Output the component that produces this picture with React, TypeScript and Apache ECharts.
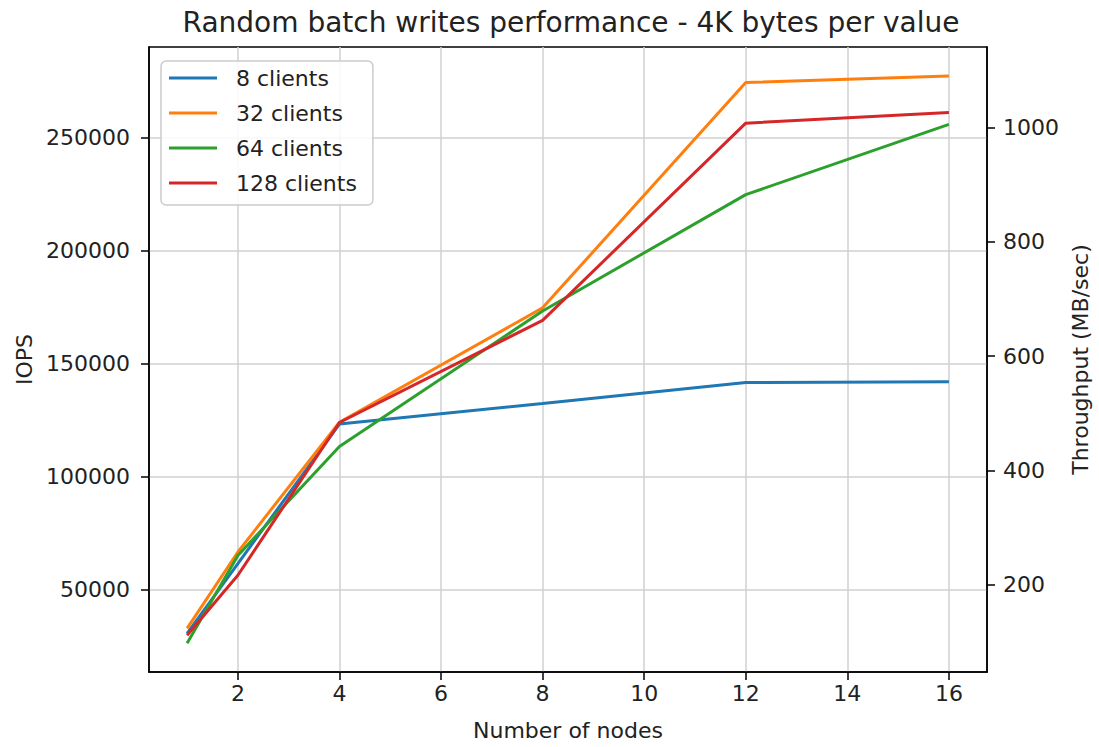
import React, { useEffect, useRef } from "react";
import * as echarts from "echarts";

const nodes = [1, 2, 4, 8, 12, 16];
const seriesNames = ["8 clients", "32 clients", "64 clients", "128 clients"];
const clients8 = [30600, 61500, 123200, 132300, 141600, 141900];
const clients32 = [32800, 66600, 124000, 174600, 274300, 277200];
const clients64 = [26200, 65100, 113300, 173200, 224700, 255800];
const clients128 = [29800, 56300, 123900, 169100, 256300, 261000];
const xTicks = [2, 4, 6, 8, 10, 12, 14, 16];
const iopsTicks = [50000, 100000, 150000, 200000, 250000];
const throughputTicks = [200, 400, 600, 800, 1000];
const colors = ["#1f77b4", "#ff7f0e", "#2ca02c", "#d62728"];

const FONT = "DejaVu Sans";

export default function App() {
  const ref = useRef<HTMLDivElement>(null);
  useEffect(() => {
    if (!ref.current) return;
    const chart = echarts.init(ref.current, null, { renderer: "svg" });
    const allData = [clients8, clients32, clients64, clients128];
    const axisText = { color: "#222", fontFamily: FONT, fontSize: 22 };
    const plain = (v: number) => String(v);
    chart.setOption({
      animation: false,
      backgroundColor: "#fff",
      title: {
        text: "Random batch writes performance - 4K bytes per value",
        left: 566,
        textAlign: "center",
        top: 3,
        textStyle: { color: "#222", fontFamily: FONT, fontSize: 28, fontWeight: "normal" },
      },
      legend: {
        orient: "vertical",
        left: 161,
        top: 61,
        padding: [6, 16, 11, 8],
        icon: "rect",
        itemWidth: 48,
        itemHeight: 3,
        itemGap: 13,
        itemStyle: { borderWidth: 0 },
        borderColor: "#cccccc",
        borderWidth: 1.5,
        borderRadius: 5,
        backgroundColor: "rgba(255,255,255,0.85)",
        textStyle: { color: "#222", fontFamily: FONT, fontSize: 22, lineHeight: 22, padding: [0, 0, 0, 14] },
        data: seriesNames,
      },
      grid: {
        left: 149,
        right: 112,
        top: 47,
        bottom: 75,
        containLabel: false,
        outerBoundsMode: "none",
        show: true,
        borderColor: "#000",
        borderWidth: 1.5,
        backgroundColor: "transparent",
      },
      xAxis: {
        type: "value",
        min: 0.25,
        max: 16.75,
        name: "Number of nodes",
        nameLocation: "middle",
        nameGap: 47,
        nameTextStyle: axisText,
        axisLine: { show: true, lineStyle: { color: "#000", width: 1.5 } },
        axisTick: { show: true, length: 8, lineStyle: { color: "#000", width: 1.5 }, customValues: xTicks },
        axisLabel: { ...axisText, margin: 10, customValues: xTicks, formatter: plain },
        splitLine: { show: true, lineStyle: { color: "#d0d0d0", width: 1.5 } },
      },
      yAxis: [
        {
          type: "value",
          min: 13520,
          max: 290000,
          name: "IOPS",
          nameLocation: "middle",
          nameGap: 102,
          nameTextStyle: axisText,
          axisLine: { show: true, lineStyle: { color: "#000", width: 1.5 } },
          axisTick: { show: true, length: 8, lineStyle: { color: "#000", width: 1.5 }, customValues: iopsTicks },
          axisLabel: { ...axisText, margin: 19, customValues: iopsTicks, formatter: plain },
          splitLine: { show: true, lineStyle: { color: "#d0d0d0", width: 1.5 } },
        },
        {
          type: "value",
          position: "right",
          min: 47.3,
          max: 1141,
          name: "Throughput (MB/sec)",
          nameLocation: "middle",
          nameGap: 73,
          nameTextStyle: axisText,
          axisLine: { show: true, lineStyle: { color: "#000", width: 1.5 } },
          axisTick: { show: true, length: 8, lineStyle: { color: "#000", width: 1.5 }, customValues: throughputTicks },
          axisLabel: { ...axisText, margin: 16, customValues: throughputTicks, formatter: plain },
          splitLine: { show: false },
        },
      ],
      series: seriesNames.map((name, i) => ({
        name,
        type: "line",
        yAxisIndex: 0,
        symbol: "none",
        showSymbol: false,
        color: colors[i],
        itemStyle: { color: colors[i] },
        lineStyle: { color: colors[i], width: 3 },
        data: nodes.map((n, j) => [n, allData[i][j]]),
      })),
    });
    return () => chart.dispose();
  }, []);
  return <div ref={ref} style={{ width: 1099, height: 747, position: "absolute", left: 0, top: 0 }} />;
}
